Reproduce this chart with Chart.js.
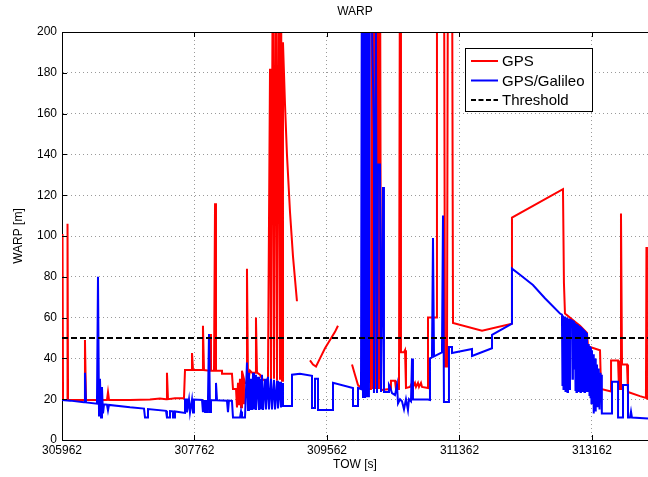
<!DOCTYPE html>
<html>
<head>
<meta charset="utf-8">
<script src="https://cdn.jsdelivr.net/npm/chart.js@4/dist/chart.umd.min.js"></script>
<style>
  html, body { margin: 0; padding: 0; background: #fff; overflow: hidden; }
  canvas { display: block; }
</style>
</head>
<body>
<canvas id="warpChart" width="648" height="477"></canvas>
<script>
// Axis ticks
const xTicks = [305962, 307762, 309562, 311362, 313162];
const yTicks = [0, 20, 40, 60, 80, 100, 120, 140, 160, 180, 200];

// GPS only (null = gap in the track)
const gpsTow = [
  305962, 305969, 305976, 306030, 306037, 306044, 306261, 306274, 306288, 306451,
  306451, 306505, 306505, 306573, 306587, 306601, 306886, 307157, 307293, 307375,
  307388, 307402, 307497, 307619, 307633, 307715, 307728, 307742, 307864, 307877,
  307891, 307959, 307973, 307986, 308027, 308041, 308054, 308136, 308136, 308271,
  308285, 308326, 308339, 308353, 308366, 308380, 308394, 308407, 308421, 308434,
  308448, 308462, 308475, 308489, 308516, 308543, 308584, 308597, 308611, 308652,
  308679, 308720, 308760, 308788, 308801, 308828, 308842, 308869, 308883, 308910,
  308924, 308937, 308951, 308964, 308991, 309018, 309059, 309100, 309154, 309250,
  309331, 309372, 309413, 309467, 309535, 309603, 309671, 309711, 309800, 309902,
  309942, 309983, 310037, 310159, 310173, 310187, 310200, 310214, 310227, 310241,
  310255, 310268, 310282, 310296, 310418, 310431, 310486, 310499, 310540, 310554,
  310567, 310608, 310622, 310635, 310690, 310717, 310730, 310757, 310771, 310798,
  310812, 310839, 310853, 310934, 310934, 311043, 311056, 311151, 311165, 311192,
  311206, 311260, 311274, 311668, 312075, 312075, 312768, 312781, 312795, 312931,
  312999, 313094, 313108, 313135, 313271, 313285, 313421, 313421, 313516, 313529,
  313543, 313556, 313570, 313638, 313651, 313814, 313895, 313902, 313909, 313923
];
const gpsWarp = [
  20, 101, 19.6, 19.6, 106, 19.6, 19.6, 49, 19.6, 19.6,
  23, 23, 19.6, 19.6, 23.5, 19.6, 19.6, 19.8, 20.3, 20,
  33, 20, 20.5, 20.5, 34.3, 34.3, 42.6, 34.3, 34.3, 56,
  34.3, 34, 52, 34, 34, 116, 34, 34, 32.5, 32.5,
  25, 25, 16, 28, 17, 30, 16, 34, 18, 30,
  28, 28, 84, 28, 34, 33, 33, 60, 33, 32,
  30, 29, 30, 182, 29, 260, 30, 260, 29, 260,
  30, 260, 29, 195, 165, 140, 112, 90, 68, null,
  39, 37, 36, 40, 45, 49, 53, 56, null, 37,
  32, 27, 25, 25, 260, 25, 260, 25, 260, 25,
  260, 25, 260, 24.5, 25, 29, 29, 25, 25, 260,
  43, 43, 44, 25.5, 26, 28, 26, 28, 26, 28,
  26, 28, 26, 25.5, 60, 60, 260, 260, 36, 36,
  260, 260, 57.4, 53.6, 57, 109, 123, 77, 62, 58,
  56, 52.5, 46, 45.6, 44, 25, 23.8, 39, 39, 25,
  25, 111, 37, 37, 23.5, 21.5, 20.6, 94.6, 20.3, 20
];

// GPS/Galileo
const galTow = [
  305962, 306071, 306261, 306274, 306288, 306437, 306451, 306465, 306478, 306492,
  306505, 306519, 306533, 306573, 306587, 306601, 306886, 307076, 307090, 307130,
  307130, 307375, 307388, 307429, 307429, 307470, 307470, 307497, 307497, 307633,
  307633, 307660, 307660, 307687, 307701, 307728, 307742, 307755, 307864, 307877,
  307891, 307905, 307918, 307932, 307945, 307959, 307973, 307986, 308041, 308054,
  308068, 308203, 308217, 308230, 308271, 308285, 308380, 308394, 308407, 308448,
  308475, 308489, 308502, 308516, 308530, 308543, 308557, 308570, 308584, 308597,
  308625, 308638, 308652, 308665, 308679, 308693, 308720, 308733, 308760, 308774,
  308801, 308815, 308842, 308856, 308883, 308896, 308924, 308937, 308964, 308964,
  309087, 309087, 309195, 309358, 309358, 309399, 309399, 309440, 309440, 309644,
  309644, 309915, 309915, 309983, 309983, 310024, 310037, 310051, 310064, 310078,
  310091, 310105, 310119, 310132, 310146, 310200, 310200, 310227, 310241, 310255,
  310282, 310296, 310323, 310336, 310391, 310404, 310418, 310445, 310486, 310513,
  310527, 310554, 310581, 310608, 310635, 310662, 310676, 310703, 310717, 310730,
  310934, 310961, 310961, 310988, 311002, 311016, 311124, 311138, 311151, 311219,
  311219, 311260, 311260, 311532, 311532, 311804, 311804, 312075, 312075, 312184,
  312360, 312523, 312727, 312754, 312761, 312768, 312775, 312781, 312788, 312795,
  312802, 312808, 312815, 312822, 312829, 312836, 312843, 312849, 312856, 312863,
  312876, 312890, 312897, 312903, 312917, 312924, 312931, 312938, 312944, 312951,
  312958, 312965, 312972, 312979, 312985, 312992, 312999, 313006, 313012, 313019,
  313026, 313033, 313039, 313046, 313053, 313060, 313067, 313074, 313080, 313087,
  313094, 313101, 313108, 313115, 313121, 313128, 313135, 313142, 313148, 313155,
  313162, 313169, 313176, 313183, 313189, 313196, 313203, 313210, 313216, 313223,
  313230, 313237, 313244, 313251, 313257, 313264, 313271, 313278, 313285, 313292,
  313298, 313298, 313434, 313434, 313516, 313516, 313570, 313583, 313651, 313651,
  313678, 313692, 313705, 313923
];
const galWarp = [
  19.6, 19.3, 18.5, 33, 18.4, 17.8, 80, 12, 30, 11,
  26, 13, 17.5, 17.3, 14.5, 17.2, 16, 15.4, 11, 11,
  15.2, 14.3, 11, 11, 14.2, 14, 11, 11, 14, 13.3,
  19.8, 19.8, 13.5, 19.8, 13.5, 19.8, 13.5, 19.8, 19.6, 13.7,
  19.6, 13.7, 19.6, 13.7, 19.6, 52, 13.7, 19.5, 19.5, 28,
  19.5, 19.3, 13.7, 19.3, 19.2, 11, 11, 14, 11, 11,
  38, 14.7, 33, 14.7, 30, 14.7, 33, 15, 32, 14.7,
  31, 14.7, 30, 15, 32, 14.7, 30, 15, 31, 15,
  30, 15, 29.5, 15, 29, 15.5, 28.5, 16, 28, 16.7,
  16.7, 32, 32.5, 31.5, 15.7, 15.7, 30, 30, 14.7, 14.7,
  28, 25.5, 16.7, 16.7, 25.5, 25, 260, 20.6, 260, 20.6,
  260, 21, 260, 21, 260, 150, 23, 200, 23, 135,
  135, 23.5, 124, 23.5, 23.5, 27, 26, 23, 22, 27,
  18, 20, 19, 15, 20, 14.7, 20, 19, 40, 20,
  19.8, 19.6, 40, 40.5, 99, 41, 43, 110, 18.6, 18.6,
  45.6, 45.6, 42.6, 44.6, 41.2, 45, 51.5, 57, 84, 81,
  76, 69.5, 62, 61.5, 27, 61, 25, 60.5, 28, 60.5,
  24, 60, 26, 60, 23.5, 59.5, 27, 59.5, 25, 59,
  58.8, 58.5, 30, 58.2, 58, 35, 57.5, 24.5, 57, 23.5,
  56.8, 25, 56.5, 24, 56, 24.5, 55.8, 23.5, 55.5, 25,
  55, 24, 54.5, 24.5, 54, 23.5, 53.5, 24, 53, 24.5,
  52.5, 23.5, 47, 24, 46.5, 22, 46, 21, 45.5, 18,
  44, 21, 42, 13, 41, 20, 40, 14, 38, 21,
  37, 16, 35, 20, 34, 15, 33, 20, 32, 14,
  31, 13, 13, 28.5, 28.5, 11, 11, 27, 27, 11,
  11, 14, 11, 10.5
];

// Threshold
const thresholdTow = [305962, 313923];
const thresholdWarp = [50, 50];

const toPoints = (xs, ys) => xs.map((x, i) => ({ x: x, y: ys[i] }));

const FONT = '"Liberation Sans", Arial, Helvetica, sans-serif';
Chart.defaults.font.family = FONT;
Chart.defaults.font.size = 12;
Chart.defaults.color = '#000';

// MATLAB-style frame: top border, inward ticks, titles and legend box
const matlabFrame = {
  id: 'matlabFrame',
  afterDraw(chart) {
    const { ctx, chartArea: a, scales: { x, y } } = chart;
    ctx.save();
    ctx.strokeStyle = '#000';
    ctx.lineWidth = 1;
    ctx.beginPath();
    ctx.moveTo(a.left, a.top + 0.5);
    ctx.lineTo(a.right, a.top + 0.5);
    xTicks.forEach(v => {
      const px = Math.round(x.getPixelForValue(v)) + 0.5;
      ctx.moveTo(px, a.bottom);
      ctx.lineTo(px, a.bottom - 5);
      ctx.moveTo(px, a.top);
      ctx.lineTo(px, a.top + 5);
    });
    yTicks.forEach(v => {
      const py = Math.round(y.getPixelForValue(v)) + 0.5;
      ctx.moveTo(a.left, py);
      ctx.lineTo(a.left + 5, py);
    });
    ctx.stroke();

    ctx.fillStyle = '#000';
    ctx.font = '12px ' + FONT;
    ctx.textAlign = 'center';
    ctx.textBaseline = 'middle';
    ctx.fillText('WARP', (a.left + a.right) / 2, 12);
    ctx.fillText('TOW [s]', (a.left + a.right) / 2, 465);
    ctx.save();
    ctx.translate(19, (a.top + a.bottom) / 2);
    ctx.rotate(-Math.PI / 2);
    ctx.fillText('WARP [m]', 0, 0);
    ctx.restore();

    // legend
    const lx = 465, ly = 48, lw = 127, lh = 63;
    ctx.fillStyle = '#fff';
    ctx.fillRect(lx, ly, lw, lh);
    ctx.strokeStyle = '#000';
    ctx.lineWidth = 1;
    ctx.strokeRect(lx + 0.5, ly + 0.5, lw, lh);
    const rows = [61, 80.5, 100];
    chart.data.datasets.forEach((ds, i) => {
      ctx.beginPath();
      ctx.strokeStyle = ds.borderColor;
      ctx.lineWidth = 2;
      ctx.setLineDash(ds.borderDash ? [5, 2.5] : []);
      ctx.moveTo(471, rows[i]);
      ctx.lineTo(498, rows[i]);
      ctx.stroke();
      ctx.setLineDash([]);
      ctx.fillStyle = '#000';
      ctx.font = '15px ' + FONT;
      ctx.textAlign = 'left';
      ctx.fillText(ds.label, 502, rows[i] + 1);
    });
    ctx.restore();
  }
};

new Chart(document.getElementById('warpChart'), {
  type: 'line',
  data: {
    datasets: [
      { label: 'GPS', data: toPoints(gpsTow, gpsWarp), borderColor: '#ff0000', borderWidth: 2, order: 3 },
      { label: 'GPS/Galileo', data: toPoints(galTow, galWarp), borderColor: '#0000ff', borderWidth: 2, order: 2 },
      { label: 'Threshold', data: toPoints(thresholdTow, thresholdWarp), borderColor: '#000000', borderWidth: 2, borderDash: [6, 3], order: 1 }
    ]
  },
  options: {
    responsive: false,
    animation: false,
    spanGaps: false,
    layout: { padding: { top: 32, right: 0, left: 0, bottom: 0 } },
    elements: { point: { radius: 0 }, line: { tension: 0 } },
    plugins: { legend: { display: false }, title: { display: false }, tooltip: { enabled: false } },
    scales: {
      x: {
        type: 'linear',
        min: 305962,
        max: 313923,
        afterBuildTicks: s => { s.ticks = xTicks.map(v => ({ value: v })); },
        afterFit: s => { s.height = 37; },
        ticks: { autoSkip: false, maxRotation: 0, padding: 3, callback: v => String(v) },
        grid: { color: '#9a9a9a', lineWidth: 1, drawTicks: false },
        border: { color: '#000', width: 1, dash: [1, 3] }
      },
      y: {
        min: 0,
        max: 200,
        afterBuildTicks: s => { s.ticks = yTicks.map(v => ({ value: v })); },
        afterFit: s => { s.width = 62; },
        ticks: { padding: 5, callback: v => String(v) },
        grid: { color: '#9a9a9a', lineWidth: 1, drawTicks: false },
        border: { color: '#000', width: 1, dash: [1, 3] }
      }
    }
  },
  plugins: [matlabFrame]
});
</script>
</body>
</html>
